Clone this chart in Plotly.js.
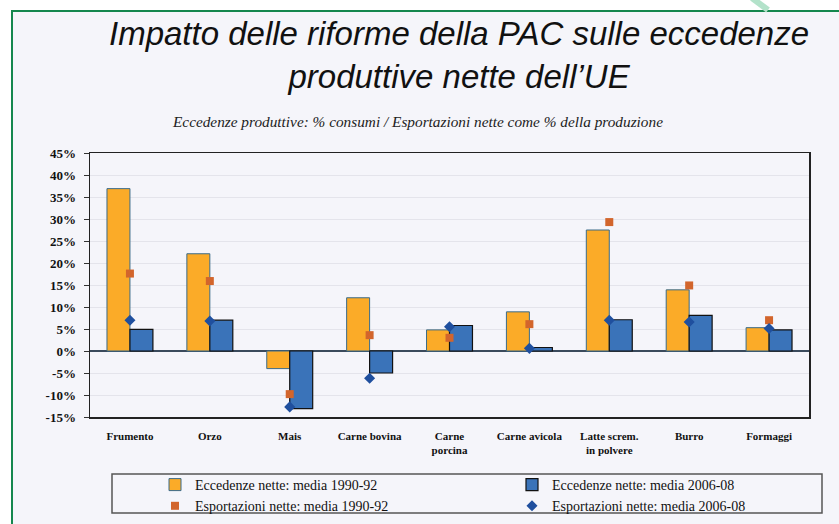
<!DOCTYPE html>
<html>
<head>
<meta charset="utf-8">
<script src="https://cdn.plot.ly/plotly-3.0.1.min.js"></script>
<style>
  html, body { margin: 0; padding: 0; background: #ffffff; }
  #frame { position: absolute; left: 11px; top: 10px; width: 828px; height: 514px;
           border-left: 2px solid #15874e; border-top: 2px solid #15874e;
           background: #f5f5fa; box-sizing: border-box; }
  #chart { position: absolute; left: 0; top: 0; width: 839px; height: 524px; }
</style>
</head>
<body>
<div id="frame"></div>
<div id="chart"></div>
<script>
// ---- data ----
const categories = ['Frumento', 'Orzo', 'Mais', 'Carne bovina', 'Carne<br>porcina',
                    'Carne avicola', 'Latte screm.<br>in polvere', 'Burro', 'Formaggi'];
const eccedenze9092 = [36.9, 22.1, -4.0, 12.1, 4.8, 8.9, 27.5, 13.9, 5.3];
const eccedenze0608 = [4.9, 7.0, -13.1, -5.0, 5.8, 0.8, 7.1, 8.1, 4.8];
const esportazioni9092 = [17.6, 15.9, -9.8, 3.6, 3.0, 6.1, 29.3, 14.9, 7.0];
const esportazioni0608 = [7.0, 6.8, -12.7, -6.2, 5.5, 0.6, 7.0, 6.6, 5.1];
const yTickVals = [-15, -10, -5, 0, 5, 10, 15, 20, 25, 30, 35, 40, 45];
const yTickText = ['-15%', '-10%', '-5%', '0%', '5%', '10%', '15%', '20%', '25%', '30%', '35%', '40%', '45%'];
const seriesNames = ['Eccedenze nette: media 1990-92', 'Eccedenze nette: media 2006-08',
                     'Esportazioni nette: media 1990-92', 'Esportazioni nette: media 2006-08'];

// ---- chart ----
const SERIF = 'Liberation Serif, Times New Roman, serif';
const SANS = 'Liberation Sans, Arial, sans-serif';

const traces = [
  { type: 'bar', name: seriesNames[0], x: categories, y: eccedenze9092,
    marker: { color: '#fbab28', line: { color: '#3b6b88', width: 1 } }, hoverinfo: 'skip' },
  { type: 'bar', name: seriesNames[1], x: categories, y: eccedenze0608,
    marker: { color: '#3a73b9', line: { color: '#111111', width: 1.2 } }, hoverinfo: 'skip' },
  { type: 'scatter', mode: 'markers', name: seriesNames[2], x: categories, y: esportazioni9092,
    marker: { symbol: 'square', size: 8, color: '#d2652c' }, hoverinfo: 'skip' },
  { type: 'scatter', mode: 'markers', name: seriesNames[3], x: categories, y: esportazioni0608,
    marker: { symbol: 'diamond', size: 8.5, color: '#1f4f9e' }, hoverinfo: 'skip' }
];

// paper <-> pixel helpers for decorative shapes (plot area: x 90..809, y 153..417)
const L = 90, R = 30, T = 153, B = 107, W = 839, H = 524;
const pw = W - L - R, ph = H - T - B;
const px = v => (v - L) / pw;
const py = v => (H - B - v) / ph;

const boundaryTicks = [-0.5].concat(categories.map((c, i) => i + 0.5));

const layout = {
  width: W, height: H,
  margin: { l: L, r: R, t: T, b: B, pad: 0, autoexpand: false },
  paper_bgcolor: 'rgba(0,0,0,0)',
  plot_bgcolor: '#f5f5fa',
  barmode: 'group', bargap: 0.425, bargroupgap: 0,
  showlegend: true,
  xaxis: {
    type: 'category', range: [-0.5, 8.5],
    showline: true, mirror: true, linecolor: '#222222', linewidth: 1.5,
    ticks: '', showgrid: false, zeroline: false,
    tickfont: { family: SERIF, size: 11, color: '#111111', weight: 'bold' },
    ticklabelstandoff: 8
  },
  xaxis2: {
    overlaying: 'x', anchor: 'free', position: 0.25, side: 'bottom',
    range: [-0.5, 8.5], tickvals: boundaryTicks, showticklabels: false,
    ticks: 'outside', ticklen: 4, tickwidth: 1.3, tickcolor: '#222222',
    showgrid: false, zeroline: false, showline: false
  },
  yaxis: {
    range: [-15, 45], tickvals: yTickVals, ticktext: yTickText,
    showline: true, mirror: true, linecolor: '#222222', linewidth: 1.5,
    ticks: 'outside', ticklen: 5, tickcolor: '#333333', tickwidth: 1,
    gridcolor: '#e4e4eb', gridwidth: 1,
    zeroline: true, zerolinecolor: '#3a4a5c', zerolinewidth: 2,
    tickfont: { family: SERIF, size: 13, color: '#111111', weight: 'bold' },
    ticklabelstandoff: 5
  },
  legend: {
    orientation: 'h', x: px(155), xanchor: 'left', y: py(469), yanchor: 'top',
    entrywidth: 312, entrywidthmode: 'pixels',
    bgcolor: 'rgba(0,0,0,0)', borderwidth: 0,
    font: { family: SERIF, size: 14, color: '#111111' },
    traceorder: 'normal'
  },
  annotations: [
    {
      text: 'Impatto delle riforme della PAC sulle eccedenze<br>produttive nette dell\u2019UE',
      xref: 'paper', yref: 'paper', x: px(459), y: py(13), xanchor: 'center', yanchor: 'top',
      showarrow: false, align: 'center',
      font: { family: SANS, size: 33, color: '#111111', style: 'italic' }
    },
    {
      text: 'Eccedenze produttive: % consumi / Esportazioni nette come % della produzione',
      xref: 'paper', yref: 'paper', x: px(417), y: py(121), xanchor: 'center', yanchor: 'middle',
      showarrow: false, font: { family: SERIF, size: 15.3, color: '#222222', style: 'italic' }
    }
  ],
  shapes: [
    { type: 'rect', xref: 'paper', yref: 'paper', x0: px(112), x1: px(822), y0: py(513), y1: py(474),
      line: { color: '#555555', width: 1.5 }, fillcolor: 'rgba(0,0,0,0)' },
    { type: 'line', xref: 'paper', yref: 'paper', x0: px(752), y0: py(-2), x1: px(768), y1: py(10),
      line: { color: '#b3e2ca', width: 6 } }
  ]
};

Plotly.newPlot('chart', traces, layout, { displayModeBar: false, staticPlot: true });
</script>
</body>
</html>
